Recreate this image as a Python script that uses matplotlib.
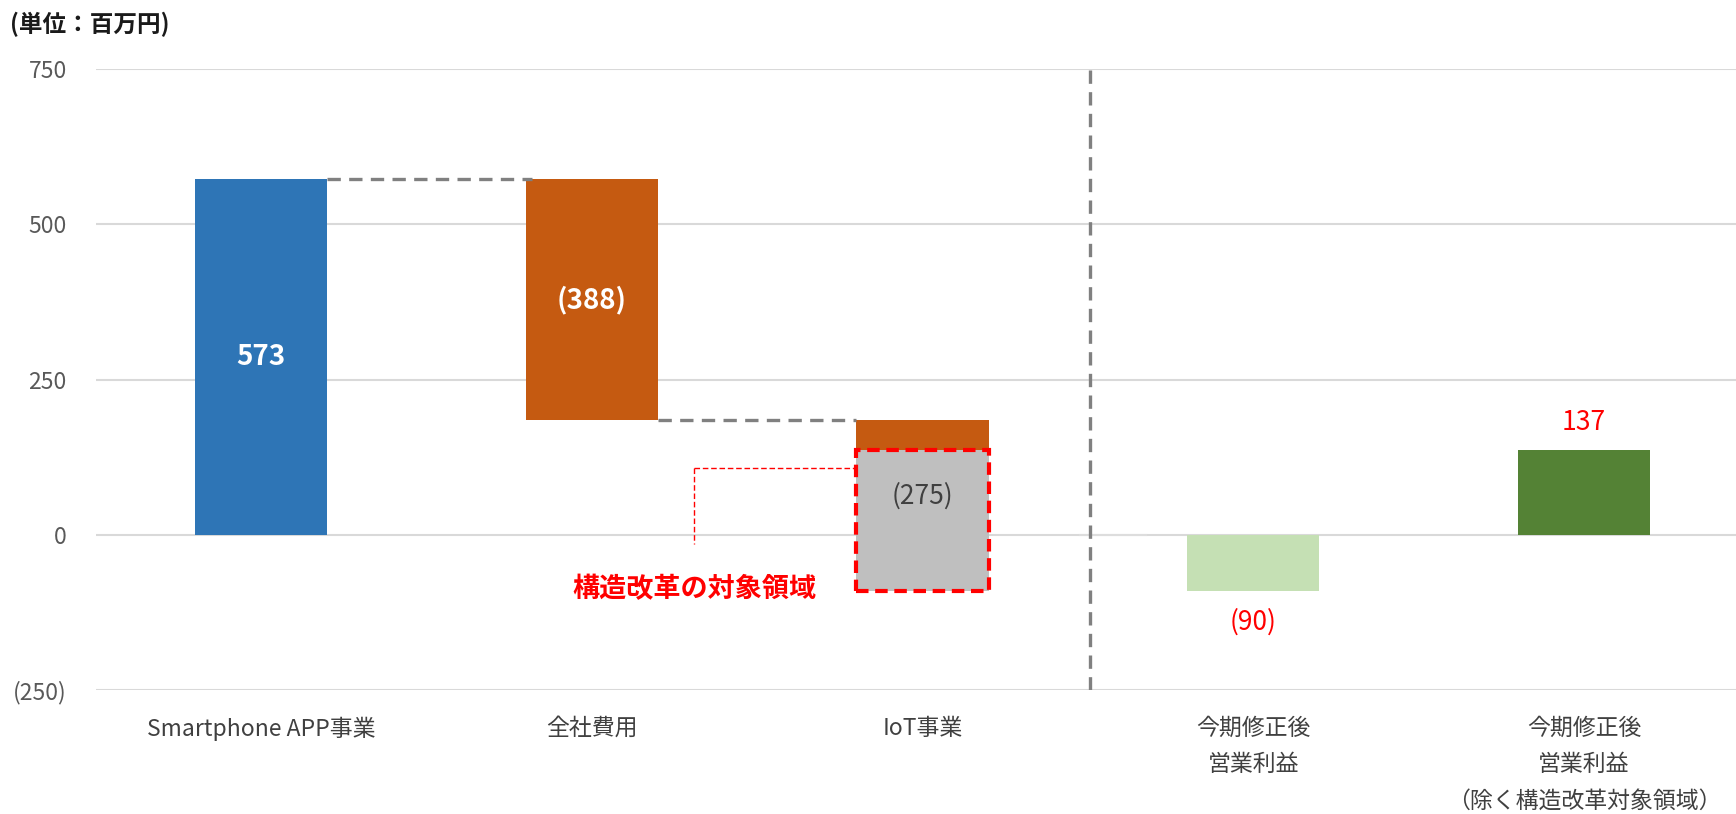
import matplotlib.pyplot as plt
from matplotlib.patches import Rectangle

plt.rcParams['font.family'] = ['Noto Sans CJK JP', 'DejaVu Sans']

categories = ["Smartphone APP事業", "全社費用", "IoT事業",
              "今期修正後\n営業利益", "今期修正後\n営業利益\n（除く構造改革対象領域）"]
smartphone = 573
corporate = -388
iot_total = -275
restructure_target = -227
result = -90
result_excl = 137
label_texts = ["573", "(388)", "(275)", "(90)", "137"]
yticks = [-250, 0, 250, 500, 750]
ytick_labels = ["(250)", "0", "250", "500", "750"]

c_blue = "#2E75B6"
c_orange = "#C55A11"
c_gray = "#BFBFBF"
c_lgreen = "#C5E0B4"
c_dgreen = "#548235"
w = 0.4

fig = plt.figure(figsize=(17.36, 8.14), dpi=100)
ax = fig.add_axes([0.0553, 0.152, 0.9447, 0.763])

after_corp = smartphone + corporate
after_iot = after_corp + iot_total

ax.bar(0, smartphone, width=w, color=c_blue, zorder=2)
ax.bar(1, corporate, bottom=smartphone, width=w, color=c_orange, zorder=2)
ax.bar(2, iot_total - restructure_target, bottom=after_corp, width=w, color=c_orange, zorder=2)
ax.bar(2, restructure_target, bottom=after_iot - restructure_target, width=w,
       color=c_gray, zorder=2)
ax.bar(3, result, width=w, color=c_lgreen, zorder=2)
ax.bar(4, result_excl, width=w, color=c_dgreen, zorder=2)

# grid
for t in yticks:
    ax.axhline(t, color="#D9D9D9", lw=1.5, zorder=1)
ax.axhline(0, xmin=0.6, xmax=0.64, color="#DDDDDD", lw=1.5, zorder=3)

# connectors
ax.plot([0 + w / 2, 1 - w / 2 + 0.02], [smartphone, smartphone], color="#808080",
        lw=2.4, ls=(0, (4, 2.5)), zorder=3)
ax.plot([1 + w / 2, 2 - w / 2], [after_corp, after_corp], color="#808080",
        lw=2.4, ls=(0, (4, 2.5)), zorder=3)
ax.plot([2.505, 2.505], [-250, 750], color="#808080", lw=2.4, ls=(0, (4, 2.5)), zorder=3)

# restructuring box
ax.add_patch(Rectangle((2 - w / 2, after_iot), w, restructure_target * -1,
                       fill=False, ec="#FF0000", lw=3, ls=(0, (3, 1.6)), zorder=4))
ax.plot([1.31, 2 - w / 2], [108, 108], color="#FF0000", lw=1, ls=(0, (4, 2)), zorder=4)
ax.plot([1.31, 1.31], [108, -14], color="#FF0000", lw=1, ls=(0, (4, 2)), zorder=4)
ax.text(1.31, -87, "構造改革の対象領域", color="#FF0000", fontsize=19.5,
        fontweight="bold", ha="center", va="center", zorder=5)

# data labels
ax.text(0, smartphone / 2, label_texts[0], color="white", fontsize=20,
        fontweight="bold", ha="center", va="center", zorder=5)
ax.text(1, smartphone + corporate / 2, label_texts[1], color="white", fontsize=20,
        fontweight="bold", ha="center", va="center", zorder=5)
ax.text(2, 62, label_texts[2], color="#404040", fontsize=19,
        ha="center", va="center", zorder=5)
ax.text(3, result - 50, label_texts[3], color="#FF0000", fontsize=19,
        ha="center", va="center", zorder=5)
ax.text(4, result_excl + 44, label_texts[4], color="#FF0000", fontsize=19,
        ha="center", va="center", zorder=5)

ax.set_xlim(-0.5, 4.46)
ax.set_ylim(-250, 750)
ax.set_yticks(yticks)
ax.set_yticklabels(ytick_labels)
ax.set_xticks(range(len(categories)))
ax.set_xticklabels(categories, linespacing=1.75)
ax.tick_params(axis="y", length=0, pad=21, labelsize=16.5, labelcolor="#595959")
ax.tick_params(axis="x", length=0, pad=19, labelsize=16.5, labelcolor="#404040")
for s in ax.spines.values():
    s.set_visible(False)

fig.text(0.006, 0.97, "(単位：百万円)", fontsize=17, fontweight="bold",
         ha="left", va="center", color="#1a1a1a")

fig.savefig("out.png", dpi=100, facecolor="white")
